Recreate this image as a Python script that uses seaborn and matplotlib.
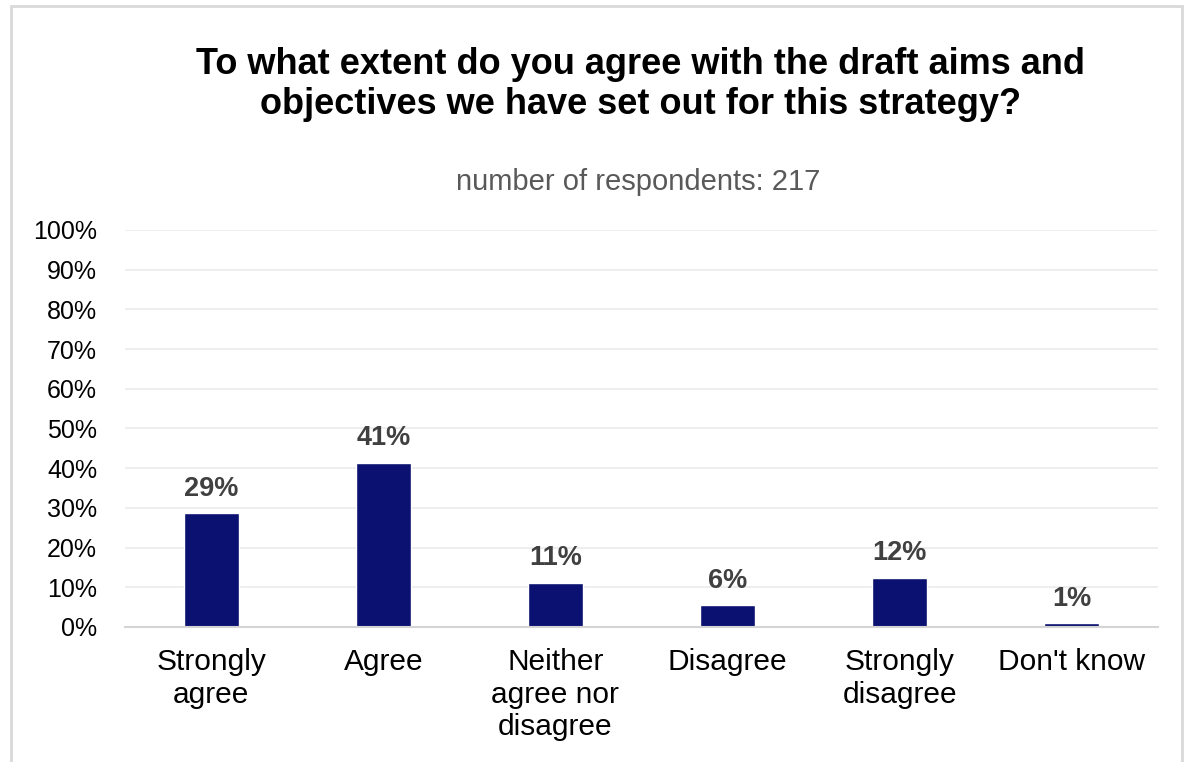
import seaborn as sns
import numpy as np
import pandas as pd
import matplotlib
matplotlib.use("Agg")
import matplotlib.pyplot as plt
from matplotlib.patches import Rectangle

# data (share of 217 respondents)
categories = ["Strongly\nagree", "Agree", "Neither\nagree nor\ndisagree",
              "Disagree", "Strongly\ndisagree", "Don't know"]
shares = [28.6, 41.3, 11.1, 5.53, 12.4, 0.9]
y_ticks = [0, 10, 20, 30, 40, 50, 60, 70, 80, 90, 100]

df = pd.DataFrame({"answer": categories, "share": shares})

sns.set_theme(style="white")
plt.rcParams["font.family"] = ["Liberation Sans", "DejaVu Sans"]

fig = plt.figure(figsize=(11.86, 7.62), dpi=100)
ax = fig.add_axes([0.1054, 0.1772, 0.8710, 0.5210])

sns.barplot(data=df, x="answer", y="share", color="#0b1170",
            width=0.32, saturation=1, ax=ax)

# value labels above the bars
for i, v in enumerate(shares):
    ax.text(i, v + 2.9, f"{v:.0f}%", ha="center", va="bottom",
            fontsize=19.5, fontweight="bold", color="#404040")

ax.set_ylim(0, 100)
ax.set_yticks(y_ticks)
ax.set_yticklabels([f"{t}%" for t in y_ticks])
ax.yaxis.grid(True, color="#ebebeb", linewidth=1.2)
ax.set_axisbelow(True)
ax.set_xlabel("")
ax.set_ylabel("")
ax.tick_params(axis="y", labelsize=18, labelcolor="#000000", length=0, pad=20)
ax.tick_params(axis="x", labelsize=21.5, labelcolor="#000000", length=0, pad=15)
for lab in ax.get_xticklabels():
    lab.set_linespacing(1.22)
for s in ["top", "right", "left"]:
    ax.spines[s].set_visible(False)
ax.spines["bottom"].set_color("#d4d4d4")
ax.spines["bottom"].set_linewidth(1.5)

fig.text(0.540, 0.889, "To what extent do you agree with the draft aims and\n"
         "objectives we have set out for this strategy?",
         ha="center", va="center", fontsize=26, fontweight="bold",
         color="#000000", linespacing=1.17)
fig.text(0.538, 0.761, "number of respondents: 217", ha="center", va="center",
         fontsize=21, color="#595959")

# light frame around the chart
fig.patches.append(Rectangle((0.009, -0.05), 0.988, 1.042, transform=fig.transFigure,
                             fill=False, edgecolor="#d9d9d9", linewidth=2))

fig.savefig("out.png", dpi=100)
